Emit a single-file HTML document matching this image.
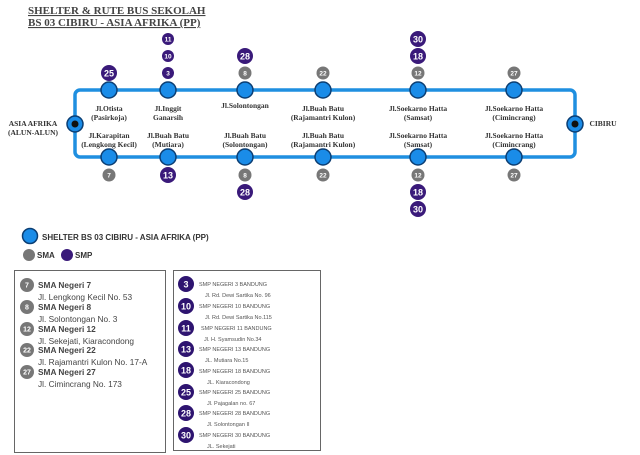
<!DOCTYPE html>
<html><head><meta charset="utf-8"><style>body{margin:0;background:#fff}svg{display:block}</style></head>
<body>
<svg width="640" height="455" viewBox="0 0 640 455" xmlns="http://www.w3.org/2000/svg" font-family="Liberation Serif, serif">
<text x="28" y="14" font-size="11" font-weight="bold" fill="#444" text-decoration="underline">SHELTER &amp; RUTE BUS SEKOLAH</text>
<text x="28" y="26" font-size="11" font-weight="bold" fill="#444" text-decoration="underline">BS 03 CIBIRU - ASIA AFRIKA (PP)</text>
<rect x="75" y="90" width="500" height="67" rx="5" fill="none" stroke="#1f8fe0" stroke-width="3.5"/>
<g fill="#1a8ce8" stroke="#0b3e73" stroke-width="1.5">
<circle cx="109" cy="90" r="8"/><circle cx="168" cy="90" r="8"/><circle cx="245" cy="90" r="8"/><circle cx="323" cy="90" r="8"/><circle cx="418" cy="90" r="8"/><circle cx="514" cy="90" r="8"/>
<circle cx="109" cy="157" r="8"/><circle cx="168" cy="157" r="8"/><circle cx="245" cy="157" r="8"/><circle cx="323" cy="157" r="8"/><circle cx="418" cy="157" r="8"/><circle cx="514" cy="157" r="8"/>
<circle cx="75" cy="124" r="8"/><circle cx="575" cy="124" r="8"/>
</g>
<circle cx="75" cy="124" r="3.5" fill="#111"/><circle cx="575" cy="124" r="3.5" fill="#111"/>
<g font-size="7.5" font-weight="bold" fill="#333" text-anchor="middle">
<text x="109" y="111">Jl.Otista</text><text x="109" y="120">(Pasirkoja)</text>
<text x="168" y="111">Jl.Inggit</text><text x="168" y="120">Ganarsih</text>
<text x="245" y="108">Jl.Solontongan</text>
<text x="323" y="111">Jl.Buah Batu</text><text x="323" y="120">(Rajamantri Kulon)</text>
<text x="418" y="111">Jl.Soekarno Hatta</text><text x="418" y="120">(Samsat)</text>
<text x="514" y="111">Jl.Soekarno Hatta</text><text x="514" y="120">(Cimincrang)</text>
<text x="109" y="138">Jl.Karapitan</text><text x="109" y="147">(Lengkong Kecil)</text>
<text x="168" y="138">Jl.Buah Batu</text><text x="168" y="147">(Mutiara)</text>
<text x="245" y="138">Jl.Buah Batu</text><text x="245" y="147">(Solontongan)</text>
<text x="323" y="138">Jl.Buah Batu</text><text x="323" y="147">(Rajamantri Kulon)</text>
<text x="418" y="138">Jl.Soekarno Hatta</text><text x="418" y="147">(Samsat)</text>
<text x="514" y="138">Jl.Soekarno Hatta</text><text x="514" y="147">(Cimincrang)</text>
<text x="33" y="126">ASIA AFRIKA</text><text x="33" y="135">(ALUN-ALUN)</text>
<text x="603" y="126">CIBIRU</text>
</g>
<g font-family="Liberation Sans, sans-serif" font-weight="bold" text-anchor="middle" fill="#fff">
<circle cx="109" cy="73" r="8" fill="#3a1a7a"/><text x="109" y="76.5" font-size="9">25</text>
<circle cx="168" cy="73" r="6" fill="#3a1a7a"/><text x="168" y="75.5" font-size="6.5">3</text>
<circle cx="168" cy="56" r="6" fill="#3a1a7a"/><text x="168" y="58.5" font-size="6.5">10</text>
<circle cx="168" cy="39" r="6" fill="#3a1a7a"/><text x="168" y="41.5" font-size="6.5">11</text>
<circle cx="245" cy="56" r="8" fill="#3a1a7a"/><text x="245" y="59.5" font-size="9">28</text>
<circle cx="245" cy="73" r="6.5" fill="#777"/><text x="245" y="75.5" font-size="6.5">8</text>
<circle cx="323" cy="73" r="6.5" fill="#777"/><text x="323" y="75.5" font-size="6.5">22</text>
<circle cx="418" cy="73" r="6.5" fill="#777"/><text x="418" y="75.5" font-size="6.5">12</text>
<circle cx="418" cy="56" r="8" fill="#3a1a7a"/><text x="418" y="59.5" font-size="9">18</text>
<circle cx="418" cy="39" r="8" fill="#3a1a7a"/><text x="418" y="42.5" font-size="9">30</text>
<circle cx="514" cy="73" r="6.5" fill="#777"/><text x="514" y="75.5" font-size="6.5">27</text>
<circle cx="109" cy="175" r="6.5" fill="#777"/><text x="109" y="177.5" font-size="6.5">7</text>
<circle cx="168" cy="175" r="8" fill="#3a1a7a"/><text x="168" y="178.5" font-size="9">13</text>
<circle cx="245" cy="175" r="6.5" fill="#777"/><text x="245" y="177.5" font-size="6.5">8</text>
<circle cx="245" cy="192" r="8" fill="#3a1a7a"/><text x="245" y="195.5" font-size="9">28</text>
<circle cx="323" cy="175" r="6.5" fill="#777"/><text x="323" y="177.5" font-size="6.5">22</text>
<circle cx="418" cy="175" r="6.5" fill="#777"/><text x="418" y="177.5" font-size="6.5">12</text>
<circle cx="418" cy="192" r="8" fill="#3a1a7a"/><text x="418" y="195.5" font-size="9">18</text>
<circle cx="418" cy="209" r="8" fill="#3a1a7a"/><text x="418" y="212.5" font-size="9">30</text>
<circle cx="514" cy="175" r="6.5" fill="#777"/><text x="514" y="177.5" font-size="6.5">27</text>
</g>
<g font-family="Liberation Sans, sans-serif">
<circle cx="30" cy="236" r="7.5" fill="#1a8ce8" stroke="#0b3e73" stroke-width="1.5"/>
<text x="42" y="240" font-size="8" font-weight="bold" fill="#333">SHELTER BS 03 CIBIRU - ASIA AFRIKA  (PP)</text>
<circle cx="29" cy="255" r="6" fill="#777"/><text x="37" y="258" font-size="8" font-weight="bold" fill="#333">SMA</text>
<circle cx="67" cy="255" r="6" fill="#3a1a7a"/><text x="75" y="258" font-size="8" font-weight="bold" fill="#333">SMP</text>
<rect x="14.5" y="270.5" width="151" height="182" fill="none" stroke="#666"/>
<rect x="173.5" y="270.5" width="147" height="180" fill="none" stroke="#666"/>
<g font-size="8.3" fill="#444">
<g text-anchor="middle" fill="#fff" font-weight="bold" font-size="7">
<circle cx="27" cy="285" r="7" fill="#777"/><text x="27" y="287.5">7</text>
<circle cx="27" cy="307" r="7" fill="#777"/><text x="27" y="309.5">8</text>
<circle cx="27" cy="329" r="7" fill="#777"/><text x="27" y="331.5">12</text>
<circle cx="27" cy="350" r="7" fill="#777"/><text x="27" y="352.5">22</text>
<circle cx="27" cy="372" r="7" fill="#777"/><text x="27" y="374.5">27</text>
</g>
<text x="38" y="288" font-weight="bold">SMA Negeri 7</text><text x="38" y="300">Jl. Lengkong Kecil No. 53</text>
<text x="38" y="310" font-weight="bold">SMA Negeri 8</text><text x="38" y="322">Jl. Solontongan No. 3</text>
<text x="38" y="332" font-weight="bold">SMA Negeri 12</text><text x="38" y="344">Jl. Sekejati, Kiaracondong</text>
<text x="38" y="353" font-weight="bold">SMA Negeri 22</text><text x="38" y="365">Jl. Rajamantri Kulon No. 17-A</text>
<text x="38" y="375" font-weight="bold">SMA Negeri 27</text><text x="38" y="387">Jl. Cimincrang No. 173</text>
</g>
<g text-anchor="middle" fill="#fff" font-weight="bold" font-size="9">
<circle cx="186" cy="284" r="8" fill="#2e1470"/><text x="186" y="287.5">3</text>
<circle cx="186" cy="306" r="8" fill="#2e1470"/><text x="186" y="309.5">10</text>
<circle cx="186" cy="328" r="8" fill="#2e1470"/><text x="186" y="331.5">11</text>
<circle cx="186" cy="349" r="8" fill="#2e1470"/><text x="186" y="352.5">13</text>
<circle cx="186" cy="370" r="8" fill="#2e1470"/><text x="186" y="373.5">18</text>
<circle cx="186" cy="392" r="8" fill="#2e1470"/><text x="186" y="395.5">25</text>
<circle cx="186" cy="413" r="8" fill="#2e1470"/><text x="186" y="416.5">28</text>
<circle cx="186" cy="435" r="8" fill="#2e1470"/><text x="186" y="438.5">30</text>
</g>
<g font-size="5.5" fill="#555">
<text x="199" y="286">SMP NEGERI 3 BANDUNG</text><text x="205" y="297">Jl. Rd. Dewi Sartika No. 96</text>
<text x="199" y="308">SMP NEGERI 10 BANDUNG</text><text x="205" y="319">Jl. Rd. Dewi Sartika No.115</text>
<text x="201" y="330">SMP NEGERI 11 BANDUNG</text><text x="204" y="341">Jl. H. Syamsudin No.34</text>
<text x="199" y="351">SMP NEGERI 13 BANDUNG</text><text x="205" y="362">JL. Mutiara No.15</text>
<text x="199" y="373">SMP NEGERI 18 BANDUNG</text><text x="207" y="384">JL. Kiaracondong</text>
<text x="199" y="394">SMP NEGERI 25 BANDUNG</text><text x="207" y="405">Jl. Pajagalan no. 67</text>
<text x="199" y="415">SMP NEGERI 28 BANDUNG</text><text x="207" y="426">Jl. Solontongan II</text>
<text x="199" y="437">SMP NEGERI 30 BANDUNG</text><text x="207" y="448">JL. Sekejati</text>
</g>
</g>
</svg>
</body></html>
